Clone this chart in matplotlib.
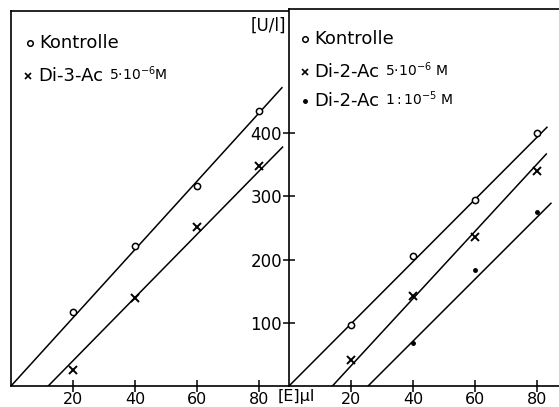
import numpy as np
import matplotlib
matplotlib.use("Agg")
import matplotlib.pyplot as plt

plt.rcParams['font.family'] = ['DejaVu Sans']
plt.rcParams['mathtext.fontset'] = 'dejavusans'

#------------ data --------------------
conc = [20, 40, 60, 80]          # [E] ul

# left panel
left_kontrolle = [117, 222, 316, 435]
left_di3 = [25, 140, 252, 348]

# right panel
right_kontrolle = [97, 205, 295, 400]
right_di2_5e6 = [41, 143, 236, 340]
conc_1e5 = [40, 60, 80]
right_di2_1e5 = [68, 183, 276]

# drawn straight lines: (x where y=0, slope, x end)
left_lines = [(0.0, 5.4, 87.4), (12.0, 5.0, 87.6)]
right_lines = [(0.0, 4.92, 83.2), (14.0, 5.32, 83.0), (25.5, 4.9, 84.5)]

yticks = [100, 200, 300, 400]

#------------ figure --------------------
W, H = 559, 407
fig = plt.figure(figsize=(W / 100, H / 100), dpi=100)

def px_axes(l, r, t, b):
    return fig.add_axes([l / W, (H - b) / H, (r - l) / W, (b - t) / H])

ax1 = px_axes(11, 289, 11, 386)
ax2 = px_axes(289, 559, 9, 386)

lw = 1.1
ax1.set_xlim(0, 278 / 3.1)
ax1.set_ylim(0, 375 / 0.632)
ax2.set_xlim(0, 270 / 3.1)
ax2.set_ylim(0, 377 / 0.632)

for ax in (ax1, ax2):
    for s in ax.spines.values():
        s.set_linewidth(1.2)
    ax.set_xticks(conc)
    ax.tick_params(axis='x', direction='inout', length=8, width=1.1,
                   labelsize=11.5, pad=0)
ax1.spines['right'].set_visible(False)
ax2.spines['right'].set_visible(False)
ax1.set_yticks([])
ax2.set_yticks(yticks)
ax2.tick_params(axis='y', direction='inout', length=8, width=1.1,
                labelsize=12, pad=1)

def draw_line(ax, x0, k, x1):
    xs = np.array([x0, x1])
    ax.plot(xs, k * (xs - x0), color='black', lw=lw)

for p in left_lines:
    draw_line(ax1, *p)
for p in right_lines:
    draw_line(ax2, *p)

ax1.plot(conc, left_kontrolle, 'o', mfc='white', mec='black', ms=4.5, mew=1.1)
ax1.plot(conc, left_di3, 'x', color='black', ms=5.5, mew=1.4)
ax2.plot(conc, right_kontrolle, 'o', mfc='white', mec='black', ms=4.5, mew=1.1)
ax2.plot(conc, right_di2_5e6, 'x', color='black', ms=5.5, mew=1.4)
ax2.plot(conc_1e5, right_di2_1e5, 'o', color='black', ms=2.5)

# legends
def legend_row(ax, xm, y, marker, name, conc_txt):
    tr = ax.transAxes
    if marker == 'open':
        ax.plot([xm], [y], 'o', mfc='white', mec='black', ms=4, mew=1.1, transform=tr, clip_on=False)
    elif marker == 'x':
        ax.plot([xm], [y], 'x', color='black', ms=4.5, mew=1.2, transform=tr, clip_on=False)
    else:
        ax.plot([xm], [y], 'o', color='black', ms=2.5, transform=tr, clip_on=False)
    t = ax.text(xm + 0.035, y, name, transform=tr, fontsize=13, va='center', ha='left')
    if conc_txt:
        ax.annotate(conc_txt, xy=(1, 0.12), xycoords=t, xytext=(4, 0),
                    textcoords='offset points', fontsize=10, va='bottom', ha='left')

legend_row(ax1, 0.068, 0.915, 'open', 'Kontrolle', None)
legend_row(ax1, 0.062, 0.827, 'x', 'Di-3-Ac', r'$5{\cdot}10^{-6}$M')
legend_row(ax2, 0.06, 0.92, 'open', 'Kontrolle', None)
legend_row(ax2, 0.06, 0.832, 'x', 'Di-2-Ac', r'$5{\cdot}10^{-6}$ M')
legend_row(ax2, 0.06, 0.755, 'dot', 'Di-2-Ac', r'$1{:}10^{-5}$ M')

# axis units
fig.text(286 / W, 1 - 26 / H, '[U/l]', fontsize=12, ha='right', va='center')
fig.text(296 / W, 1 - 397 / H, '[E]µl', fontsize=11.5, ha='center', va='center')

plt.savefig('out.png', dpi=100)
